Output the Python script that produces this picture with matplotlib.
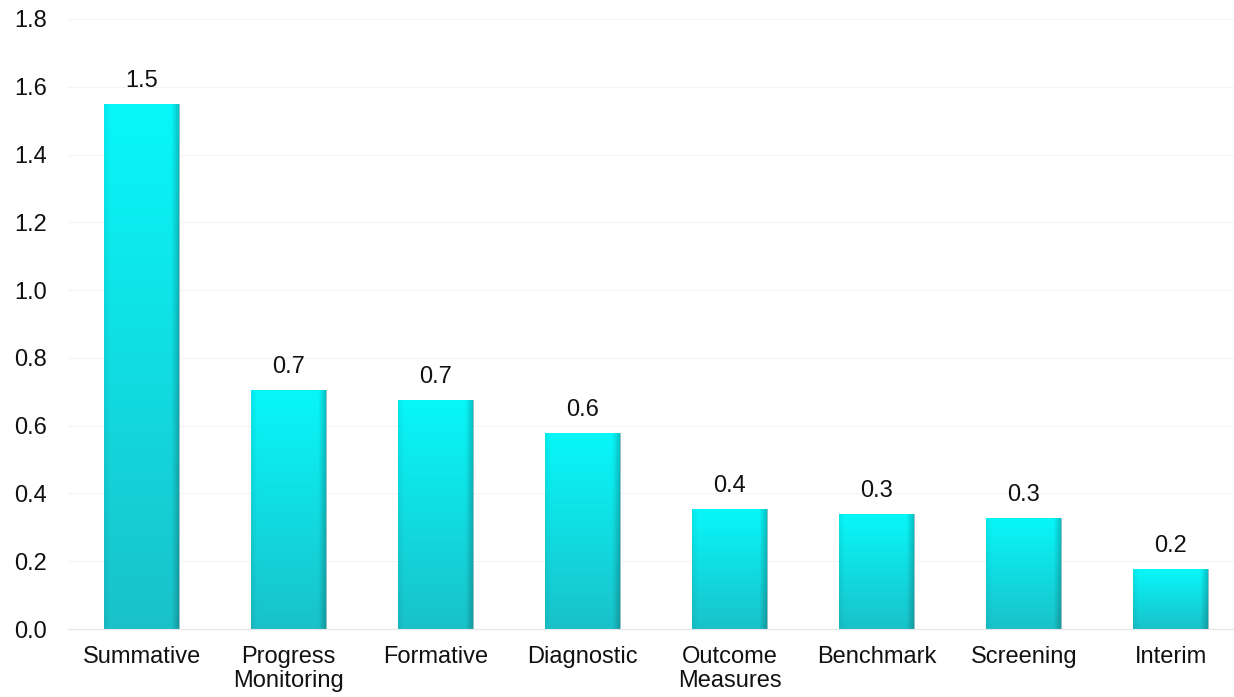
import numpy as np
import matplotlib.pyplot as plt

# ============================
# data
# ============================
categories = ['Summative', 'Progress\nMonitoring', 'Formative', 'Diagnostic',
              'Outcome\nMeasures', 'Benchmark', 'Screening', 'Interim']
values = [1.549, 0.705, 0.676, 0.578, 0.354, 0.339, 0.328, 0.177]
yticks = [0.0, 0.2, 0.4, 0.6, 0.8, 1.0, 1.2, 1.4, 1.6, 1.8]

plt.rcParams['font.family'] = ['Liberation Sans', 'DejaVu Sans']

fig = plt.figure(figsize=(12.34, 6.97), dpi=100)
ax = fig.add_axes([68 / 1234, 68 / 697, 1 - 68 / 1234, (629 - 19) / 697])

x = np.arange(len(categories))
bw = 0.51
bars = ax.bar(x, values, width=bw, color='#10e6ee', edgecolor='#9ab8bc', linewidth=0.6, zorder=2)

# gradient fill: light at top, darker toward bottom and at side edges
ny, nx = 200, 60
v = np.linspace(0, 1, ny)[:, None]          # 0 bottom -> 1 top
h = np.linspace(0, 1, nx)[None, :]
top = np.array([0.03, 0.97, 0.98])
bot = np.array([0.10, 0.76, 0.79])
base = bot + (top - bot) * v[..., None]
edge = np.clip(1 - np.minimum(h, 1 - h) / 0.08, 0, 1)
edge_r = np.clip((h - 0.9) / 0.1, 0, 1)
shade = 1 - 0.06 * edge[..., None] - 0.14 * edge_r[..., None]
img = np.clip(base * shade, 0, 1)

for rect in bars:
    x0, w, hgt = rect.get_x(), rect.get_width(), rect.get_height()
    im = ax.imshow(img, extent=[x0, x0 + w, 0, hgt], origin='lower',
                   aspect='auto', zorder=2.5, interpolation='bilinear')
    im.set_clip_path(rect)
    ax.text(x0 + w / 2, hgt + 0.035, f'{hgt:.1f}', ha='center', va='bottom',
            fontsize=17, color='#111111', zorder=3)

ax.set_xlim(-0.5, 7.43)
ax.set_ylim(0, 1.8)
ax.set_yticks(yticks)
ax.set_yticklabels([f'{t:.1f}' for t in yticks], fontsize=17)
ax.set_xticks(x)
ax.set_xticklabels(categories, fontsize=17, linespacing=1.15)
ax.tick_params(axis='both', length=0, colors='#111111')
ax.tick_params(axis='y', pad=15)
ax.tick_params(axis='x', pad=12)
ax.grid(axis='y', color='#f4f4f4', linewidth=0.8, zorder=0)
for s in ['top', 'right', 'left']:
    ax.spines[s].set_visible(False)
ax.spines['bottom'].set_color('#e6e6e6')

fig.savefig('out.png', dpi=100)
